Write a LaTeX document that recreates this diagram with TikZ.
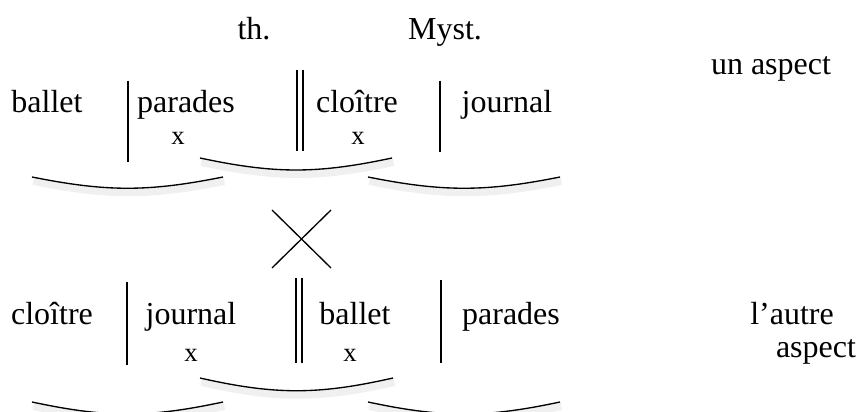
\documentclass[tikz,border=0pt]{standalone}
\usepackage{fontspec}
\setmainfont{Liberation Serif}
\usetikzlibrary{positioning}

\begin{document}
\begin{tikzpicture}[x=0.375pt,y=-0.375pt,line width=0.5pt,
  word/.style={anchor=base,inner sep=0pt,font=\fontsize{12}{14}\selectfont},
  mark label/.style={anchor=base,inner sep=0pt,font=\fontsize{10}{12}\selectfont},
  shade line/.style={preaction={draw,black!6,line width=3pt,
    transform canvas={yshift=-1.5pt,xshift=0.5pt}}}]
  \useasboundingbox (0,0) rectangle (861,412);

  % headings
  \node[word] (th) at (254,40) {th.};
  \node[word] (myst) at (445,40) {Myst.};
  \node[word] (one) at (771,75) {un aspect};

  % first line
  \node[word] (ballet1) at (47,113) {ballet};
  \node[word] (parades1) at (186,113) {parades};
  \node[word] (cloitre1) at (357,113) {cloître};
  \node[word] (journal1) at (507,113) {journal};
  \node[mark label] (x1) at (178,145) {x};
  \node[mark label] (x2) at (358,145) {x};

  \coordinate (a1) at (128,81);  \coordinate (a2) at (128,162);
  \coordinate (b1) at (297,70);  \coordinate (b2) at (297,151);
  \coordinate (c1) at (303,70);  \coordinate (c2) at (303,151);
  \coordinate (d1) at (440,81);  \coordinate (d2) at (440,152);

  \path[draw,shade line] (a1) edge (a2) (b1) edge (b2)
    (c1) edge (c2) (d1) edge (d2);

  \coordinate (u1) at (200,158); \coordinate (u2) at (392,158);
  \coordinate (v1) at (32,177);  \coordinate (v2) at (223,177);
  \coordinate (w1) at (368,177); \coordinate (w2) at (560,177);

  \draw[shade line] (u1) .. controls +(75,16) and +(-75,16) .. (u2);
  \draw[shade line] (v1) .. controls +(75,15) and +(-75,15) .. (v2);
  \draw[shade line] (w1) .. controls +(75,15) and +(-75,15) .. (w2);

  % the cross
  \coordinate (k1) at (272,210); \coordinate (k2) at (331,268);
  \coordinate (k3) at (331,210); \coordinate (k4) at (272,268);
  \path[draw,shade line] (k1) edge (k2) (k3) edge (k4);

  % second line
  \node[word] (cloitre2) at (52,325) {cloître};
  \node[word] (journal2) at (191,325) {journal};
  \node[word] (ballet2) at (355,325) {ballet};
  \node[word] (parades2) at (511,325) {parades};
  \node[word] (other) at (792,325) {l’autre};
  \node[word] (aspect) at (816,358) {aspect};
  \node[mark label] (x3) at (191,362) {x};
  \node[mark label] (x4) at (350,362) {x};

  \coordinate (e1) at (127,282); \coordinate (e2) at (127,365);
  \coordinate (f1) at (296,278); \coordinate (f2) at (296,363);
  \coordinate (g1) at (302,278); \coordinate (g2) at (302,363);
  \coordinate (h1) at (441,280); \coordinate (h2) at (441,363);

  \path[draw,shade line] (e1) edge (e2) (f1) edge (f2)
    (g1) edge (g2) (h1) edge (h2);

  \coordinate (p1) at (200,378); \coordinate (p2) at (393,378);
  \coordinate (q1) at (32,402);  \coordinate (q2) at (223,402);
  \coordinate (r1) at (368,402); \coordinate (r2) at (560,402);

  \draw[shade line] (p1) .. controls +(75,17) and +(-75,17) .. (p2);
  \draw[shade line] (q1) .. controls +(75,16) and +(-75,16) .. (q2);
  \draw[shade line] (r1) .. controls +(75,16) and +(-75,16) .. (r2);
\end{tikzpicture}
\end{document}
